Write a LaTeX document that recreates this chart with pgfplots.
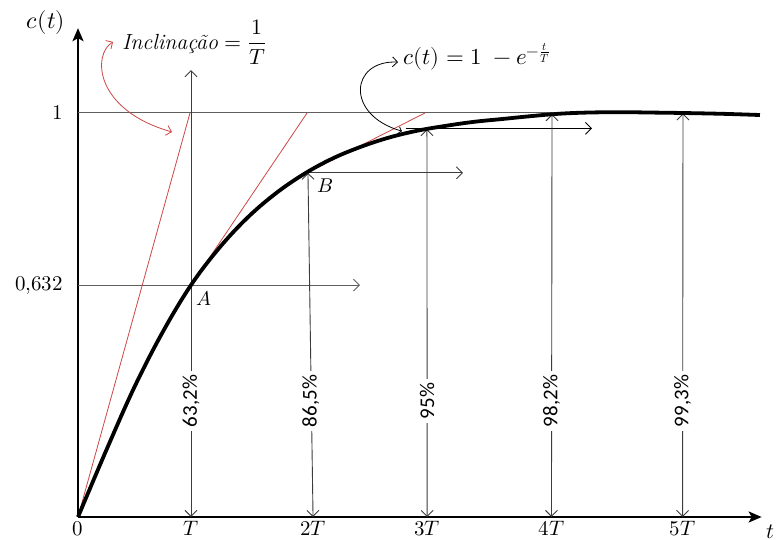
\documentclass[border=0pt]{standalone}
\usepackage{fontspec}
\usepackage{unicode-math}
\setmathfont{Latin Modern Math}
\usepackage{pgfplots}
\pgfplotsset{compat=1.18}
\usetikzlibrary{arrows.meta}
\newfontfamily\carlito{Carlito}

\definecolor{tanred}{RGB}{205,70,70}
\definecolor{guide}{RGB}{95,95,95}
\definecolor{dimline}{RGB}{60,60,60}

% step response c(t), t in units of T
\pgfplotstableread{
t      c
0      0
0.25   0.165
0.50   0.322
0.75   0.458
1.00   0.574
1.25   0.666
1.50   0.741
1.75   0.801
2.00   0.849
2.25   0.887
2.50   0.916
2.75   0.939
3.00   0.956
3.25   0.968
3.50   0.978
3.75   0.985
4.00   0.992
4.25   0.998
4.50   1.001
4.80   1.002
5.10   1.001
5.35   1.000
5.70   0.998
6.035  0.995
}\response

\tikzset{
  barb/.tip={Straight Barb[length=6bp,width=12bp,line width=0.9bp]},
  pct/.style={fill=white, rotate=90, inner sep=4bp,
    font=\carlito\fontsize{21}{25}\selectfont},
}

\begin{document}
\begin{tikzpicture}[font=\fontsize{21}{25}\selectfont]
\begin{axis}[
  x=113bp, y=404bp,
  xmin=0, xmax=6.05, ymin=0, ymax=1.21,
  axis lines=left,
  axis line style={line width=2.4bp, -{Stealth[length=13bp,width=11bp,inset=3bp]}},
  xtick={0,1,2.08,3.09,4.19,5.35},
  xticklabels={$0$,$T$,$2T$,$3T$,$4T$,$5T$},
  ytick={0.574,1},
  yticklabels={$0{,}632$,{$1$\hspace{6bp}}},
  major tick length=0pt,
  ticklabel style={font=\fontsize{21}{25}\selectfont},
  xticklabel style={anchor=north, inner sep=0pt, yshift=-4bp},
  yticklabel style={anchor=east, inner sep=0pt, xshift=-15bp},
  clip=false,
]
\coordinate (O) at (axis cs:0,0);

% reference level c = 1
\addplot[guide, line width=1bp] coordinates {(0,1) (4.2,1)};

% horizontal guides at A, B and 3T
\draw[guide, line width=1bp, -barb] (axis cs:0,0.574) -- (axis cs:2.496,0.574);
\draw[dimline, line width=0.9bp, -barb] (axis cs:2.027,0.852) -- (axis cs:3.407,0.852);
\draw[black, line width=0.9bp, -barb] (axis cs:2.90,0.962) -- (axis cs:4.549,0.962);

% tangents at 0, A and B
\addplot[tanred, line width=0.8bp] coordinates {(0,0) (0.991,1)};
\addplot[tanred, line width=0.8bp] coordinates {(1.0,0.574) (2.027,1)};
\addplot[tanred, line width=0.8bp] coordinates {(2.027,0.852) (3.07,1)};

% vertical markers at T ... 5T
\draw[dimline, line width=0.9bp, barb-barb] (axis cs:1,1.106) -- (axis cs:1,0);
\draw[dimline, line width=0.9bp, barb-barb] (axis cs:2.035,0.852) -- (axis cs:2.08,0);
\draw[dimline, line width=0.9bp, barb-barb] (axis cs:3.088,0.960) -- (axis cs:3.09,0);
\draw[dimline, line width=0.9bp, barb-barb] (axis cs:4.195,0.997) -- (axis cs:4.19,0);
\draw[dimline, line width=0.9bp, barb-barb] (axis cs:5.354,0.999) -- (axis cs:5.35,0);

\node[pct] at (axis cs:1.0,0.287)   {63,2\%};
\node[pct] at (axis cs:2.06,0.287)  {86,5\%};
\node[pct] at (axis cs:3.09,0.287)  {95\%};
\node[pct] at (axis cs:4.19,0.287)  {98,2\%};
\node[pct] at (axis cs:5.35,0.287)  {99,3\%};

% response curve
\addplot[black, line width=3.8bp, smooth, tension=0.6] table[x=t, y=c] {\response};

% point labels
\node[font=\fontsize{20}{24}\selectfont] at (axis cs:1.115,0.540) {$A$};
\node[font=\fontsize{20}{24}\selectfont] at (axis cs:2.185,0.820) {$B$};

% annotations
\draw[tanred, line width=0.8bp, {Straight Barb[length=5bp,width=10bp]}-{Straight Barb[length=5bp,width=10bp]}]
  (axis cs:0.310,1.176) .. controls (axis cs:0.124,1.144) and (axis cs:0.150,1.007) .. (axis cs:0.832,0.953);
\node[anchor=west, inner sep=0pt] at (axis cs:0.389,1.176)
  {\fontsize{22}{26}\selectfont\textit{Inclinação} $=\displaystyle\frac{1}{T}$};

\draw[black, line width=0.8bp, {Straight Barb[length=5bp,width=10bp]}-{Straight Barb[length=3bp,width=7bp]}]
  (axis cs:2.832,1.126) .. controls (axis cs:2.407,1.131) and (axis cs:2.363,0.995) .. (axis cs:2.867,0.955);
\node[anchor=west, inner sep=0pt, font=\fontsize{23}{27}\selectfont] at (axis cs:2.876,1.139)
  {$c(t) = 1\;-e^{-\frac{t}{T}}$};

% axis names
\node[font=\fontsize{24}{28}\selectfont] at (axis cs:-0.283,1.225) {$c(t)$};
\node[font=\fontsize{22}{26}\selectfont, inner sep=1bp] at (axis cs:6.13,-0.037) {$t$};
\end{axis}
\pgfresetboundingbox
\path[use as bounding box] (O) ++(-78bp,-23bp) rectangle ++(781bp,540bp);
\end{tikzpicture}
\end{document}
